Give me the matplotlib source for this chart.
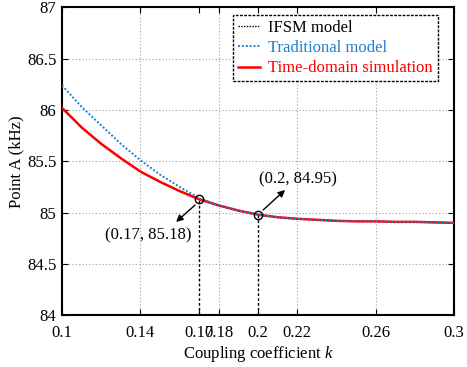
import matplotlib
matplotlib.use("Agg")
import matplotlib.pyplot as plt

plt.rcParams['font.family'] = ['Liberation Serif', 'DejaVu Serif']
plt.rcParams['mathtext.fontset'] = 'custom'
plt.rcParams['mathtext.it'] = 'Liberation Serif:italic'
plt.rcParams['mathtext.rm'] = 'Liberation Serif'

k = [0.10, 0.11, 0.12, 0.13, 0.14, 0.15, 0.16, 0.17, 0.18, 0.19, 0.20,
     0.21, 0.22, 0.23, 0.24, 0.25, 0.26, 0.27, 0.28, 0.29, 0.30]
time_domain = [86.02, 85.83, 85.67, 85.53, 85.40, 85.30, 85.21, 85.13, 85.07, 85.02, 84.98,
               84.955, 84.94, 84.93, 84.92, 84.915, 84.915, 84.91, 84.91, 84.905, 84.90]
ifsm = [86.02, 85.83, 85.67, 85.53, 85.40, 85.30, 85.21, 85.13, 85.07, 85.02, 84.98,
        84.955, 84.94, 84.93, 84.92, 84.915, 84.915, 84.91, 84.91, 84.905, 84.90]
traditional = [86.24, 86.03, 85.85, 85.67, 85.51, 85.37, 85.25, 85.14, 85.07, 85.02, 84.98,
               84.955, 84.94, 84.93, 84.92, 84.915, 84.915, 84.91, 84.91, 84.905, 84.90]
mark_k = [0.17, 0.20]
mark_f = [85.13, 84.98]
mark_labels = ['(0.17, 85.18)', '(0.2, 84.95)']
xticks = [0.1, 0.14, 0.17, 0.18, 0.2, 0.22, 0.26, 0.3]
xticklabels = ['0.1', '0.14', '0.17', '0.18', '0.2', '0.22', '0.26', '0.3']
yticks = [84, 84.5, 85, 85.5, 86, 86.5, 87]
yticklabels = ['84', '84.5', '85', '85.5', '86', '86.5', '87']

fig = plt.figure(figsize=(4.67, 3.67), dpi=100)
ax = fig.add_axes([0.1328, 0.1409, 0.8394, 0.8392])

# grid (manual, Matlab-like dotted)
for gx in [0.14, 0.18, 0.22, 0.26]:
    ax.axvline(gx, color='#a0a0a0', ls=(0, (1, 2)), lw=0.8, zorder=0)
for gy in [84.5, 85, 85.5, 86, 86.5]:
    ax.axhline(gy, color='#a0a0a0', ls=(0, (1, 2)), lw=0.8, zorder=0)

ax.plot(k, time_domain, color='#ff0000', lw=1.8, label='Time-domain simulation', zorder=3)
ax.plot(k, ifsm, color='black', ls=(0, (1, 1)), lw=1.0, label='IFSM model', zorder=2.5)
ax.plot(k, traditional, color='#1f7fd0', ls=(0, (1, 1)), lw=1.4, label='Traditional model', zorder=5)

# vertical dashed lines to marked points
for mk, mf in zip(mark_k, mark_f):
    ax.plot([mk, mk], [84, mf], color='black', ls=(0, (2, 1.5)), lw=1.0, zorder=2)
ax.plot(mark_k, mark_f, 'o', mfc='none', mec='black', ms=6, mew=1.0, zorder=6)

ax.annotate('', xy=(0.1582, 84.909), xytext=(0.1679, 85.074),
            arrowprops=dict(arrowstyle='-|>', color='black', lw=1.0, mutation_scale=10,
                            shrinkA=0, shrinkB=0))
ax.text(0.1440, 84.78, mark_labels[0], ha='center', va='center', fontsize=12)
ax.annotate('', xy=(0.2138, 85.22), xytext=(0.2026, 85.026),
            arrowprops=dict(arrowstyle='-|>', color='black', lw=1.0, mutation_scale=10,
                            shrinkA=0, shrinkB=0))
ax.text(0.2205, 85.32, mark_labels[1], ha='center', va='center', fontsize=12)

ax.set_xlim(0.1, 0.3)
ax.set_ylim(84, 87)
ax.set_xticks(xticks)
ax.set_xticklabels(xticklabels)
ax.set_yticks(yticks)
ax.set_yticklabels(yticklabels)
ax.tick_params(direction='in', top=True, right=True, labelsize=12, length=4)
ax.tick_params(axis='x', pad=7)
ax.tick_params(axis='y', pad=4)
for s in ax.spines.values():
    s.set_linewidth(1.5)

ax.set_xlabel('Coupling coefficient $k$', fontsize=12, labelpad=2)
ax.set_ylabel('Point A (kHz)', fontsize=12, labelpad=2)

handles, labels = ax.get_legend_handles_labels()
order = [1, 2, 0]
leg = ax.legend([handles[i] for i in order], [labels[i] for i in order],
                loc='upper right', bbox_to_anchor=(0.958, 0.975), fontsize=12,
                fancybox=False, framealpha=1, edgecolor='black', handlelength=1.3,
                handletextpad=0.5, borderpad=0.3, labelspacing=0.25, borderaxespad=0)
leg.get_frame().set_linestyle((0, (2, 1)))
leg.get_frame().set_linewidth(1.0)
for t, c in zip(leg.get_texts(), ['black', '#1f7fd0', '#ff0000']):
    t.set_color(c)

fig.savefig('out.png', dpi=100)
